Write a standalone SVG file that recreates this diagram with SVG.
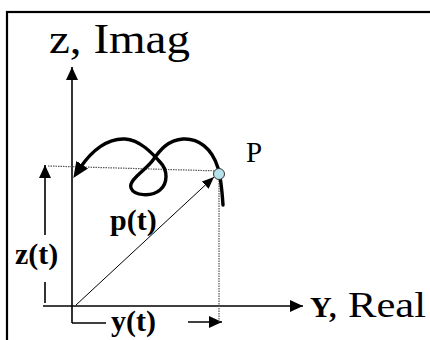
<svg xmlns="http://www.w3.org/2000/svg" width="430" height="340" viewBox="0 0 430 340">
<defs>
<marker id="ah" markerUnits="userSpaceOnUse" markerWidth="14" markerHeight="12" refX="13" refY="6" orient="auto">
<path d="M0,0 L13,6 L0,12 Z" fill="#000"/>
</marker>
<marker id="ahs" markerUnits="userSpaceOnUse" markerWidth="14" markerHeight="12" refX="12" refY="5" orient="auto">
<path d="M0,0 L12,5 L0,10 Z" fill="#000"/>
</marker>
<marker id="ahc" markerUnits="userSpaceOnUse" markerWidth="18" markerHeight="16" refX="4" refY="7" orient="auto">
<path d="M0,0 L16,7 L0,14 Z" fill="#000"/>
</marker>
</defs>
<style>
.ax{stroke:#000;stroke-width:1.6;fill:none}
.thin{stroke:#000;stroke-width:1;fill:none}
.dot{stroke:#555;stroke-width:1.2;stroke-dasharray:1.5 1;fill:none}
.curve{stroke:#000;stroke-width:3.4;fill:none;stroke-linecap:round}
.bl{font-family:"Liberation Serif",serif;font-weight:bold;font-size:30px;fill:#000}
</style>
<rect x="7" y="12" width="440" height="340" fill="none" stroke="#000" stroke-width="2.2"/>
<g id="connectors">
<line class="ax" x1="72" y1="323" x2="72" y2="67" marker-end="url(#ah)"/>
<line class="ax" x1="43" y1="306" x2="303" y2="306" marker-end="url(#ah)"/>
<line class="ax" x1="72" y1="323" x2="106" y2="323"/>
<line class="ax" x1="188" y1="322" x2="222" y2="322" marker-end="url(#ah)"/>
<line class="ax" x1="45" y1="235" x2="45" y2="165" marker-end="url(#ah)"/>
<line class="ax" x1="45" y1="282" x2="45" y2="303"/>
<line class="dot" x1="48" y1="166" x2="220" y2="171"/>
<line class="dot" x1="219" y1="178" x2="219" y2="322"/>
<line class="thin" x1="76" y1="305" x2="214" y2="177" marker-end="url(#ahs)"/>
<path class="curve" d="M223,205 C222,190 221,178 218,168 C212,148 198,138 183,139 C168,140 160,150 153,160 C146,170 128,180 131,188 C134,196 152,197 160,190 C168,183 168,170 160,162 C152,153 140,140 125,139 C108,138 92,150 80,168" marker-end="url(#ahc)"/>
</g>
<g id="P">
<circle cx="219" cy="174" r="5.5" fill="#b7e1ea" stroke="#333" stroke-width="1"/>
<text x="246" y="162" font-family="Liberation Serif, serif" font-size="29">P</text>
</g>
<g id="label-zimag"><text x="49" y="53" font-family="Liberation Serif, serif" font-size="42" textLength="141" lengthAdjust="spacingAndGlyphs">z, Imag</text></g>
<g id="label-yreal"><text x="310" y="317" font-family="Liberation Serif, serif"><tspan font-weight="bold" font-size="30">Y,</tspan><tspan font-size="35" x="348" textLength="78" lengthAdjust="spacingAndGlyphs">Real</tspan></text></g>
<g id="label-pt"><text class="bl" x="110" y="230" font-size="29">p(t)</text></g>
<g id="label-zt"><text class="bl" x="15" y="264">z(t)</text></g>
<g id="label-yt"><text class="bl" x="111" y="331">y(t)</text></g>
</svg>
